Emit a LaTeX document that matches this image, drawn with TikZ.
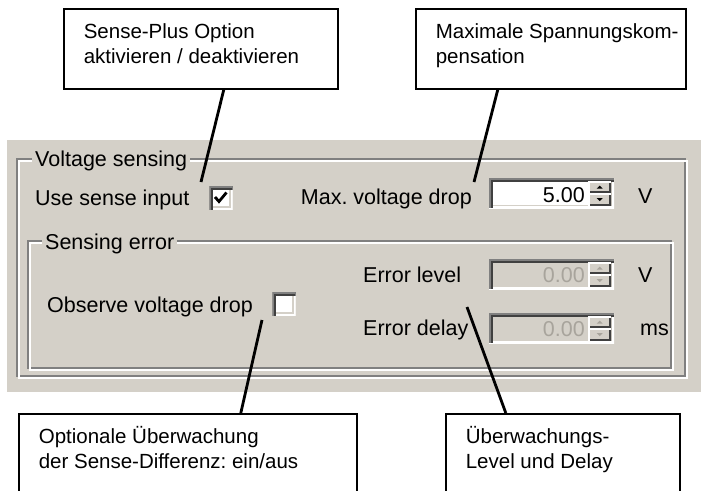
\documentclass[tikz,border=0pt]{standalone}
\usepackage{fontspec}
\setmainfont{Liberation Sans}
\newfontfamily\guifont{Liberation Sans}
\usetikzlibrary{positioning}
\frenchspacing
\definecolor{dlgFace}{HTML}{D4D0C8}
\definecolor{dlgShadow}{HTML}{808080}
\definecolor{dlgDark}{HTML}{404040}
\definecolor{dlgMuted}{HTML}{A8A49C}
\tikzset{
  dlg note/.style={draw=black, line width=1.6pt, fill=white, anchor=north west,
    inner xsep=20pt, inner ysep=12pt, font=\fontsize{20.5}{25}\selectfont},
  dlg lead/.style={draw=black, line width=2.8pt},
  dlg text/.style={font=\guifont\fontsize{21.5}{24}\selectfont, inner sep=0pt, anchor=base west},
  dlg muted/.style={dlg text, text=dlgMuted},
  dlg caption/.style={fill=dlgFace, inner xsep=3pt},
  dlg etch dark/.style={draw=dlgShadow, line width=1.8pt},
  dlg etch light/.style={draw=white, line width=1.8pt},
  dlg sunken/.style={inner sep=0pt, path picture={
    \draw[dlgFace, line width=7.2pt] (path picture bounding box.south west)
      -- (path picture bounding box.south east) -- (path picture bounding box.north east);
    \draw[white, line width=3.6pt] (path picture bounding box.south west)
      -- (path picture bounding box.south east) -- (path picture bounding box.north east);
    \draw[dlgDark, line width=7.2pt] (path picture bounding box.south west)
      -- (path picture bounding box.north west) -- (path picture bounding box.north east);
    \draw[dlgShadow, line width=3.6pt] (path picture bounding box.south west)
      -- (path picture bounding box.north west) -- (path picture bounding box.north east);
  }},
  dlg check/.style={dlg sunken, fill=white, minimum size=23pt},
  dlg field/.style={dlg sunken, anchor=north west, minimum width=125pt, minimum height=30pt},
  dlg spin/.style={inner sep=0pt, fill=dlgFace, minimum width=23pt, minimum height=12pt,
    path picture={
    \draw[dlgDark, line width=3.6pt] (path picture bounding box.south west)
      -- (path picture bounding box.south east) -- (path picture bounding box.north east);
    \draw[white, line width=3.6pt] (path picture bounding box.south west)
      -- (path picture bounding box.north west) -- (path picture bounding box.north east);
  }},
}

\begin{document}
\begin{tikzpicture}[x=1pt, y=-1pt]
  \clip (0,0) rectangle (714,490);
  \fill[white] (0,0) rectangle (714,490);

  % ----- dialog face and the two group frames -----
  \fill[dlgFace] (7,140) rectangle (701,392);
  \draw[dlg etch dark] (17,159) rectangle (685,376);
  \draw[dlg etch light] (18.8,160.8) rectangle (686.8,377.8);
  \draw[dlg etch dark] (28,241) rectangle (671,368);
  \draw[dlg etch light] (29.8,242.8) rectangle (672.8,369.8);
  \node[dlg text, dlg caption] (volt caption) at (32,166) {Voltage sensing};
  \node[dlg text, dlg caption] (error caption) at (42,249) {Sensing error};

  % ----- row 1: sense input and voltage drop -----
  \node[dlg text] (use label) at (35,205) {Use sense input};
  \node[dlg check] (use box) at (221,198) {};
  \draw[line width=2.8pt] ([shift={(-6,-1)}]use box.center) -- ++(4,4.5) -- ++(7.5,-9);
  \node[dlg text, anchor=base east] (drop label) at (472,204) {Max. voltage drop};
  \node[dlg field, fill=white] (field-drop) at (489,178) {};
  \node[dlg text, anchor=base east] (drop value) at (585,202) {5.00};
  \node[dlg text] (drop unit) at (638,203) {V};

  % ----- sensing error rows -----
  \node[dlg text] (level label) at (363,282) {Error level};
  \node[dlg field, fill=dlgFace] (field-level) at (489,259) {};
  \node[dlg muted, anchor=base east] (level value) at (585,282) {0.00};
  \node[dlg text] (level unit) at (638,282) {V};

  \node[dlg text] (observe label) at (47,312) {Observe voltage drop};
  \node[dlg check] (observe box) at (284,304) {};

  \node[dlg text] (delay label) at (363,335) {Error delay};
  \node[dlg field, fill=dlgFace] (field-delay) at (489,313) {};
  \node[dlg muted, anchor=base east] (delay value) at (585,336) {0.00};
  \node[dlg text] (delay unit) at (640,335) {ms};

  % spinner buttons inside each field
  \foreach \fld/\col in {drop/black, level/dlgMuted, delay/dlgMuted}{
    \node[dlg spin, anchor=north east] (up-\fld) at ([shift={(-3,3)}]field-\fld.north east) {};
    \node[dlg spin, below=0pt of up-\fld] (down-\fld) {};
    \fill[\col] ([shift={(-3,1.5)}]up-\fld.center) -- ++(6,0) -- ++(-3,-3) -- cycle;
    \fill[\col] ([shift={(-3,-1.5)}]down-\fld.center) -- ++(6,0) -- ++(-3,3) -- cycle;
  }

  % ----- callouts -----
  \node[dlg note] (sense note) at (63,8)
    {\parbox[t][56pt][t]{234pt}{\strut Sense-Plus Option\\aktivieren / deaktivieren}};
  \node[dlg note] (comp note) at (415,8)
    {\parbox[t][56pt][t]{230pt}{\strut\mbox{Maximale Spannungskom-}\\pensation}};
  \node[dlg note] (observe note) at (18,413)
    {\parbox[t][76pt][t]{298pt}{\strut Optionale Überwachung\\der Sense-Differenz: ein/aus}};
  \node[dlg note] (delay note) at (445,413)
    {\parbox[t][76pt][t]{194pt}{\strut Überwachungs-\\Level und Delay}};

  % leader lines
  \coordinate (use tip) at (201,182);
  \coordinate (drop tip) at (474,182);
  \coordinate (observe tip) at (262,320);
  \coordinate (delay tip) at (467,307);
  \draw[dlg lead] ([xshift=23pt]sense note.south) -- (use tip);
  \draw[dlg lead] ([xshift=-53pt]comp note.south) -- (drop tip);
  \draw[dlg lead] ([xshift=53pt]observe note.north) -- (observe tip);
  \draw[dlg lead] ([xshift=-57pt]delay note.north) -- (delay tip);
\end{tikzpicture}
\end{document}
